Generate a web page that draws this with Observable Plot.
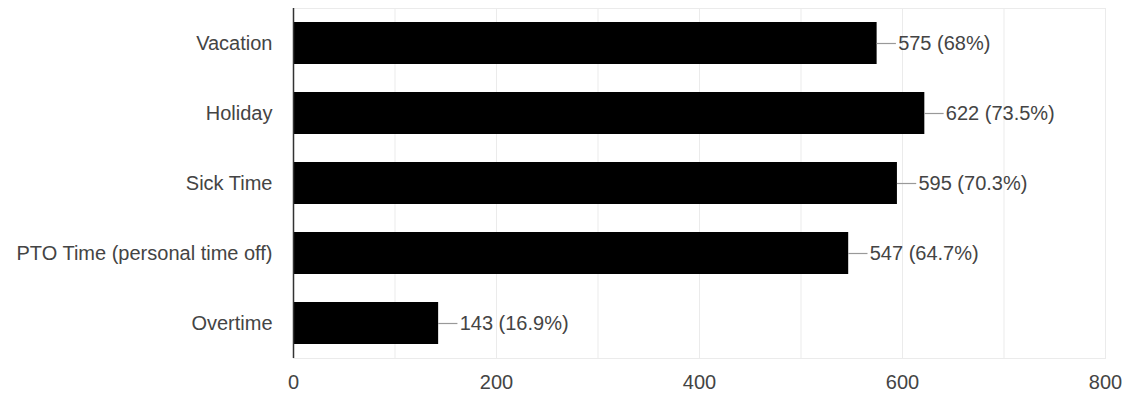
<!DOCTYPE html>
<html>
<head>
<meta charset="utf-8">
<script src="https://cdn.jsdelivr.net/npm/d3@7"></script>
<script src="https://cdn.jsdelivr.net/npm/@observablehq/plot@0.6"></script>
<style>
  html, body { margin: 0; padding: 0; background: #fff; }
</style>
</head>
<body>
<div id="chart"></div>
<script>
const categories = ["Vacation", "Holiday", "Sick Time", "PTO Time (personal time off)", "Overtime"];
const counts = [575, 622, 595, 547, 143];
const percents = ["68%", "73.5%", "70.3%", "64.7%", "16.9%"];
const xTicks = [0, 200, 400, 600, 800];
const gridValues = [100, 200, 300, 400, 500, 600, 700, 800];

const data = categories.map((c, i) => ({label: c, value: counts[i], pct: percents[i]}));
const leader = 19; // leader length in data units

const chart = Plot.plot({
  width: 1129,
  height: 393,
  marginLeft: 293,
  marginRight: 24,
  marginTop: 8,
  marginBottom: 35,
  style: {fontFamily: "'Liberation Sans', Arial, sans-serif", fontSize: "20px", color: "#444", background: "#fff"},
  x: {domain: [0, 800], ticks: xTicks, tickSize: 0, tickPadding: 16, label: null},
  y: {domain: categories, paddingInner: 0.4, paddingOuter: 0.2, tickSize: 0, tickPadding: 21, label: null},
  marks: [
    Plot.frame({stroke: "#ebebeb"}),
    Plot.ruleX(gridValues, {stroke: "#ebebeb"}),
    Plot.barX(data, {y: "label", x: "value", fill: "#000"}),
    Plot.ruleY(data, {y: "label", x1: "value", x2: d => d.value + leader, stroke: "#999", strokeWidth: 1.2}),
    Plot.text(data, {y: "label", x: "value", dx: 21, text: d => `${d.value} (${d.pct})`, textAnchor: "start", fill: "#444", fontSize: 20}),
    Plot.ruleX([0], {stroke: "#333", strokeWidth: 1.5})
  ]
});
document.getElementById("chart").appendChild(chart);
</script>
</body>
</html>
